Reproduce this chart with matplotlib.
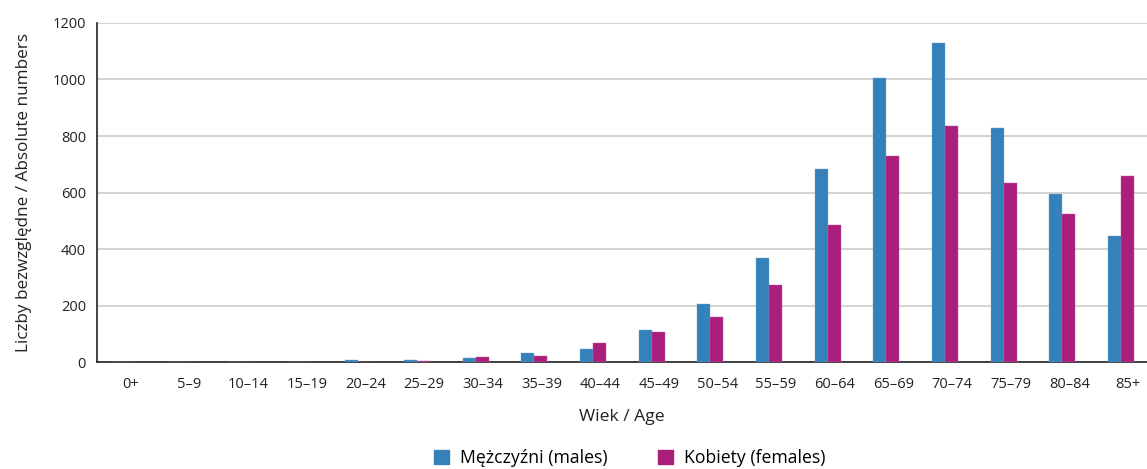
import numpy as np
from matplotlib import pyplot as plt
from matplotlib.patches import Patch

plt.rcParams['font.family'] = ['Open Sans', 'DejaVu Sans']

ageGroups = ['0+', '5–9', '10–14', '15–19', '20–24', '25–29', '30–34', '35–39', '40–44',
             '45–49', '50–54', '55–59', '60–64', '65–69', '70–74', '75–79', '80–84', '85+']
males = [2, 0, 1, 1, 6, 6, 14, 32, 48, 113, 207, 370, 683, 1004, 1129, 828, 594, 447]
females = [1, 0, 1, 0, 1, 3, 17, 20, 68, 105, 160, 273, 486, 730, 834, 634, 525, 659]
yTicks = [0, 200, 400, 600, 800, 1000, 1200]

maleColor = '#3681ba'
femaleColor = '#aa1f7c'

fig = plt.figure(figsize=(11.47, 4.69), dpi=100)
ax = fig.add_axes([0.0846, 0.228, 0.9154, 0.723])

x = np.arange(len(ageGroups))
barWidth = 0.22
shift = -0.12
ax.bar(x - barWidth / 2 + shift, males, barWidth, color=maleColor, edgecolor='#6fa6cf', linewidth=0.3, zorder=3)
ax.bar(x + barWidth / 2 + shift, females, barWidth, color=femaleColor, edgecolor='#c45a9e', linewidth=0.3, zorder=3)

ax.set_xlim(-0.574, 17.323)
ax.set_ylim(0, 1200)
ax.set_yticks(yTicks)
ax.set_xticks(x)
ax.set_xticklabels(ageGroups, fontsize=10.5, color='#222222')
ax.tick_params(axis='y', length=0, pad=8, labelsize=10.5, labelcolor='#222222')
ax.tick_params(axis='x', length=0, pad=11)
ax.grid(axis='y', color='#cccccc', linewidth=1.2, zorder=0)

for side in ['top', 'right']:
    ax.spines[side].set_visible(False)
ax.spines['left'].set_color('#222222')
ax.spines['bottom'].set_color('#222222')
ax.spines['left'].set_linewidth(1.2)
ax.spines['bottom'].set_linewidth(1.2)

ax.set_xlabel('Wiek / Age', fontsize=12.6, color='#222222', labelpad=12)
ax.set_ylabel('Liczby bezwzględne / Absolute numbers', fontsize=12.3, color='#222222', labelpad=15)

handles = [Patch(color=maleColor, label='Mężczyźni (males)'),
           Patch(color=femaleColor, label='Kobiety (females)')]
fig.legend(handles=handles, loc='lower center', bbox_to_anchor=(0.549, -0.03), ncol=2, frameon=False,
           fontsize=12.7, handlelength=0.85, handleheight=0.85, columnspacing=2.9, handletextpad=0.6)

plt.savefig('out.png', dpi=100)
